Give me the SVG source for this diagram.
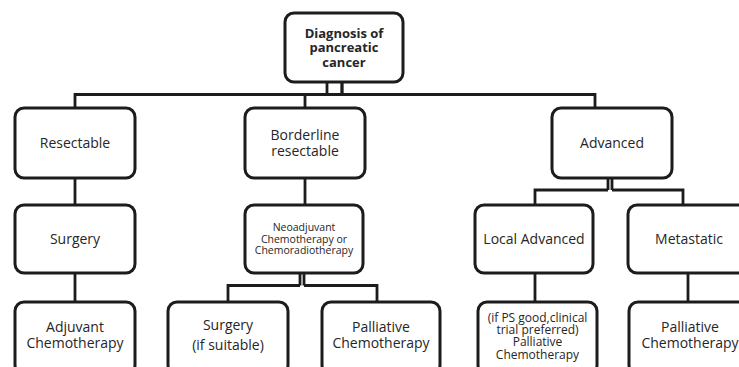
<svg xmlns="http://www.w3.org/2000/svg" width="739" height="367" viewBox="0 0 739 367">
<style>
.box{fill:#fff;stroke:#1c1c1c;stroke-width:3}
.ln{fill:none;stroke:#1c1c1c;stroke-width:2.8}
text{font-family:"Open Sans","DejaVu Sans",sans-serif;fill:#262626;text-anchor:middle}
.t{font-size:14px}
.b{font-size:13px;font-weight:bold}
.s{font-size:10.5px}
.m{font-size:12px}
</style>
<rect width="739" height="367" fill="#fff"/>
<g id="connectors">
<path class="ln" d="M327 82V94M342 82V94"/>
<path class="ln" d="M342 82V94" stroke-width="3.6"/>
<path class="ln" d="M75 108V94.5H595V108M305 94.5V108"/>
<path class="ln" d="M75 178V205M75 273V302"/>
<path class="ln" d="M305 178V205"/>
<path class="ln" d="M300 273V285.5M304 273V285.5"/>
<path class="ln" d="M228 302V285.5H300M304 285.5H377V302"/>
<path class="ln" d="M608 178V190M612 178V190"/>
<path class="ln" d="M535 205V190H608M612 190H683V205"/>
<path class="ln" d="M535 273V302M688 273V302"/>
</g>
<g id="n-diagnosis"><rect class="box" x="285" y="13" width="118" height="69" rx="9"/>
<text class="b" x="344" y="37.5">Diagnosis of</text><text class="b" x="344" y="52">pancreatic</text><text class="b" x="344" y="66.5">cancer</text></g>
<g id="n-resectable"><rect class="box" x="15" y="108" width="120" height="70" rx="9"/>
<text class="t" x="75" y="147.5">Resectable</text></g>
<g id="n-borderline"><rect class="box" x="245" y="108" width="120" height="70" rx="9"/>
<text class="t" x="305" y="140">Borderline</text><text class="t" x="305" y="155.5">resectable</text></g>
<g id="n-advanced"><rect class="box" x="552" y="108" width="120" height="70" rx="9"/>
<text class="t" x="612" y="147.5">Advanced</text></g>
<g id="n-surgery"><rect class="box" x="15" y="205" width="120" height="68" rx="9"/>
<text class="t" x="75" y="244">Surgery</text></g>
<g id="n-neoadjuvant"><rect class="box" x="245" y="205" width="118" height="68" rx="9"/>
<text class="s" x="304" y="230.5">Neoadjuvant</text><text class="s" x="304" y="242.5">Chemotherapy or</text><text class="s" x="304" y="254">Chemoradiotherapy</text></g>
<g id="n-local"><rect class="box" x="475" y="205" width="118" height="68" rx="9"/>
<text class="t" x="534" y="244">Local Advanced</text></g>
<g id="n-metastatic"><rect class="box" x="628" y="205" width="122" height="68" rx="9"/>
<text class="t" x="689" y="244">Metastatic</text></g>
<g id="n-adjuvant"><rect class="box" x="15" y="302" width="120" height="72" rx="9"/>
<text class="t" x="75" y="331.5">Adjuvant</text><text class="t" x="75" y="348">Chemotherapy</text></g>
<g id="n-surgery2"><rect class="box" x="168" y="302" width="120" height="72" rx="9"/>
<text class="t" x="228" y="330">Surgery</text><text class="t" x="228" y="350">(if suitable)</text></g>
<g id="n-palliative1"><rect class="box" x="322" y="302" width="118" height="72" rx="9"/>
<text class="t" x="381" y="331.5">Palliative</text><text class="t" x="381" y="348">Chemotherapy</text></g>
<g id="n-palliative2"><rect class="box" x="478" y="302" width="119" height="72" rx="9"/>
<text class="m" x="537.5" y="321.5">(if PS good,clinical</text><text class="m" x="537.5" y="334">trial preferred)</text><text class="m" x="537.5" y="346">Palliative</text><text class="m" x="537.5" y="358.5">Chemotherapy</text></g>
<g id="n-palliative3"><rect class="box" x="629" y="302" width="122" height="72" rx="9"/>
<text class="t" x="690" y="331.5">Palliative</text><text class="t" x="690" y="348">Chemotherapy</text></g>
</svg>
